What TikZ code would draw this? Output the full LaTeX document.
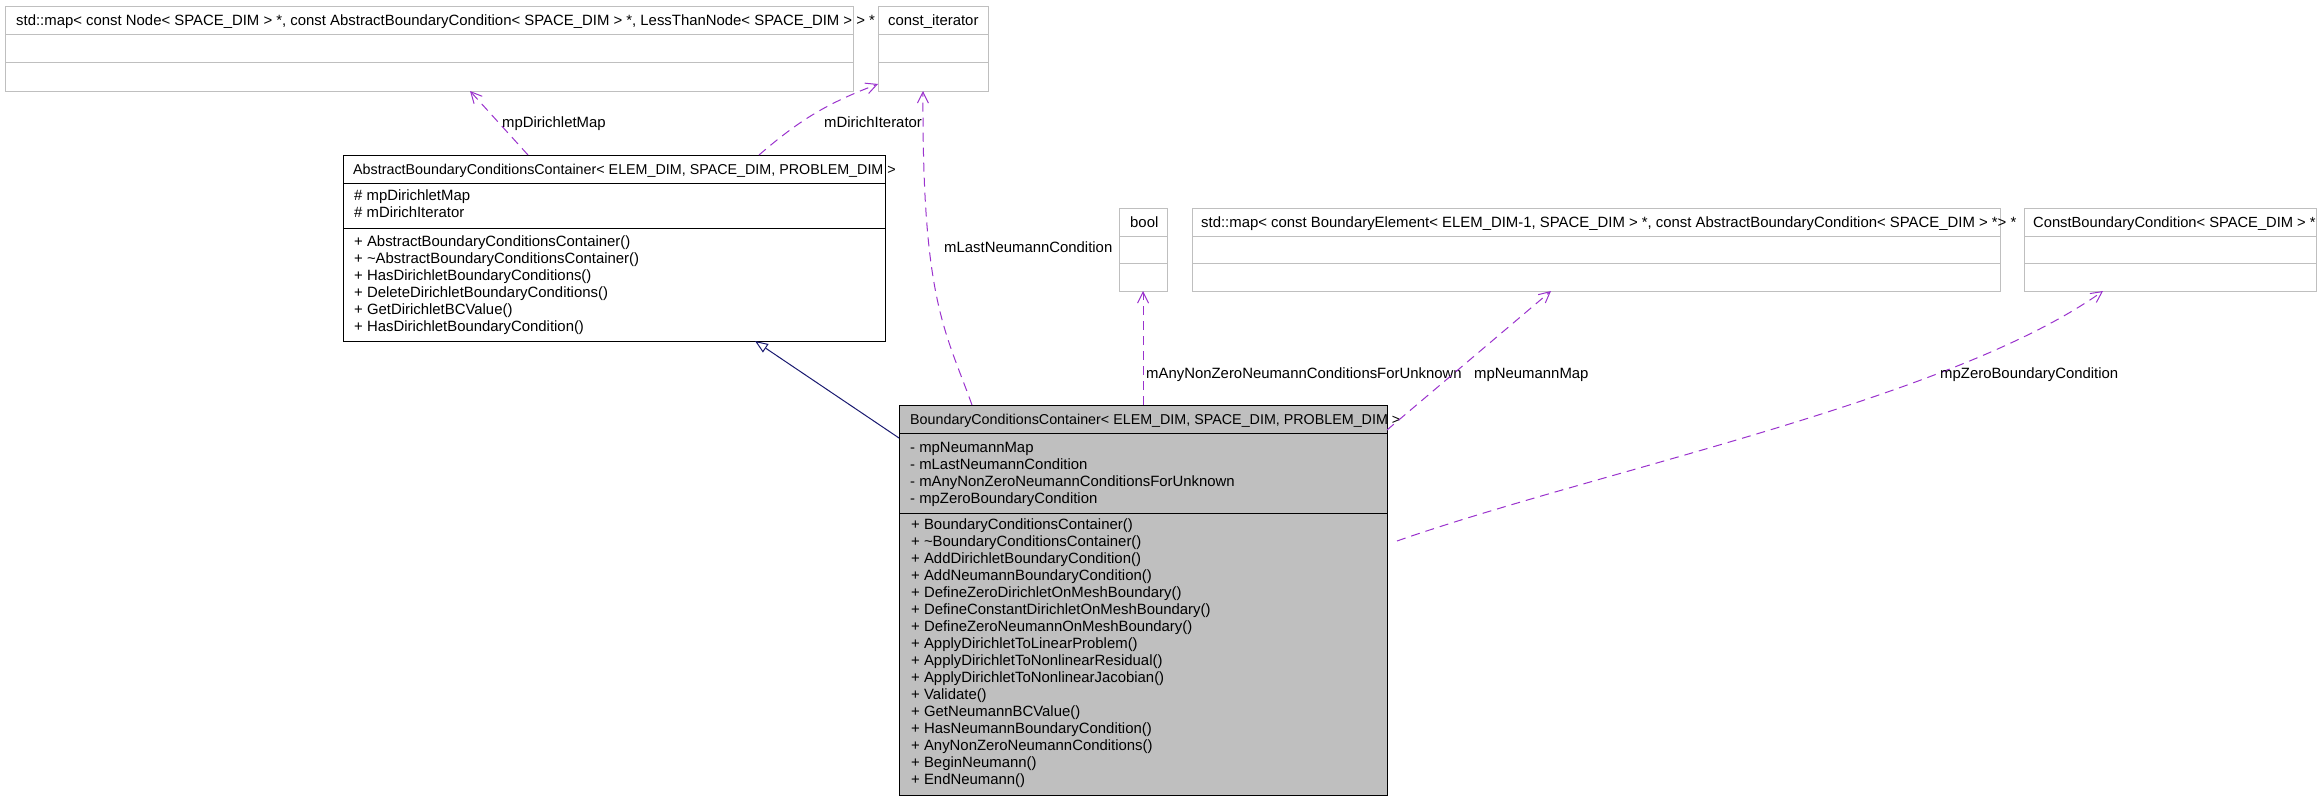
\documentclass[tikz,border=0pt]{standalone}
\usepackage{fontspec}
\setmainfont{Liberation Sans}
\usetikzlibrary{arrows.meta}
\definecolor{usecol}{HTML}{9A32CD}
\definecolor{inhcol}{HTML}{191970}
\definecolor{boxgray}{HTML}{BFBFBF}
\begin{document}
\begin{tikzpicture}[x=1pt,y=-1pt,
  extbox/.style={draw=boxgray, line width=1pt, anchor=north west, inner sep=0pt, outer sep=0pt},
  clsbox/.style={draw=black, line width=1pt, anchor=north west, inner sep=0pt, outer sep=0pt},
  sepext/.style={draw=boxgray, line width=1pt},
  sepcls/.style={draw=black, line width=1pt},
  txt/.style={anchor=base west, inner sep=0pt, font=\fontsize{14.9}{17}\selectfont},
  ttl/.style={anchor=base west, inner sep=0pt, font=\fontsize{14.3}{17}\selectfont},
  lbl/.style={anchor=base west, inner sep=0pt, font=\fontsize{14.9}{17}\selectfont},
  use/.style={draw=usecol, line width=1pt, dash pattern=on 9pt off 6pt, -{Straight Barb[length=11pt,width=11pt]}},
  inh/.style={draw=inhcol, line width=1pt, -{Triangle[open,length=13pt,width=10pt]}}
]
\useasboundingbox (0,0) rectangle (2321,800);

% ---------- top external boxes ----------
\node[extbox, minimum width=848pt, minimum height=84pt] (mapnode) at (5,7) {};
\draw[sepext] ([yshift=-28pt]mapnode.north west) -- ([yshift=-28pt]mapnode.north east);
\draw[sepext] ([yshift=-56pt]mapnode.north west) -- ([yshift=-56pt]mapnode.north east);
\node[txt] (mapnodet) at (16,26) {std::map< const Node< SPACE\_DIM > *, const AbstractBoundaryCondition< SPACE\_DIM > *, LessThanNode< SPACE\_DIM > > *};

\node[extbox, minimum width=110pt, minimum height=84pt] (citer) at (878,7) {};
\draw[sepext] ([yshift=-28pt]citer.north west) -- ([yshift=-28pt]citer.north east);
\draw[sepext] ([yshift=-56pt]citer.north west) -- ([yshift=-56pt]citer.north east);
\node[txt] (citert) at (888,26) {const\_iterator};

% ---------- second row external boxes ----------
\node[extbox, minimum width=48pt, minimum height=83pt] (bool) at (1119,208) {};
\draw[sepext] ([yshift=-28pt]bool.north west) -- ([yshift=-28pt]bool.north east);
\draw[sepext] ([yshift=-55pt]bool.north west) -- ([yshift=-55pt]bool.north east);
\node[txt] (boolt) at (1130,227) {bool};

\node[extbox, minimum width=808pt, minimum height=83pt] (bemap) at (1192,208) {};
\draw[sepext] ([yshift=-28pt]bemap.north west) -- ([yshift=-28pt]bemap.north east);
\draw[sepext] ([yshift=-55pt]bemap.north west) -- ([yshift=-55pt]bemap.north east);
\node[txt] (bemapt) at (1201,227) {std::map< const BoundaryElement< ELEM\_DIM-1, SPACE\_DIM > *, const AbstractBoundaryCondition< SPACE\_DIM > *> *};

\node[extbox, minimum width=292pt, minimum height=83pt] (cbc) at (2024,208) {};
\draw[sepext] ([yshift=-28pt]cbc.north west) -- ([yshift=-28pt]cbc.north east);
\draw[sepext] ([yshift=-55pt]cbc.north west) -- ([yshift=-55pt]cbc.north east);
\node[txt, font=\fontsize{14.7}{17}\selectfont] (cbct) at (2033,227) {ConstBoundaryCondition< SPACE\_DIM > *};

% ---------- AbstractBoundaryConditionsContainer ----------
\node[clsbox, minimum width=542pt, minimum height=186pt] (abs) at (343,155) {};
\draw[sepcls] ([yshift=-28pt]abs.north west) -- ([yshift=-28pt]abs.north east);
\draw[sepcls] ([yshift=-73pt]abs.north west) -- ([yshift=-73pt]abs.north east);
\node[ttl] (abst) at (353,174) {AbstractBoundaryConditionsContainer< ELEM\_DIM, SPACE\_DIM, PROBLEM\_DIM >};
\node[txt] (absa0) at (354,200) {\# mpDirichletMap};
\node[txt] (absa1) at (354,217) {\# mDirichIterator};
\foreach \t [count=\i from 0] in {%
  + AbstractBoundaryConditionsContainer(),
  + \textasciitilde AbstractBoundaryConditionsContainer(),
  + HasDirichletBoundaryConditions(),
  + DeleteDirichletBoundaryConditions(),
  + GetDirichletBCValue(),
  + HasDirichletBoundaryCondition()}
  {\node[txt] (absm\i) at (354,246+17*\i) {\t};}

% ---------- BoundaryConditionsContainer ----------
\node[clsbox, fill=boxgray, minimum width=488pt, minimum height=390pt] (bcc) at (899,405) {};
\draw[sepcls] ([yshift=-28pt]bcc.north west) -- ([yshift=-28pt]bcc.north east);
\draw[sepcls] ([yshift=-108pt]bcc.north west) -- ([yshift=-108pt]bcc.north east);
\node[ttl] (bcct) at (910,424.5) {BoundaryConditionsContainer< ELEM\_DIM, SPACE\_DIM, PROBLEM\_DIM >};
\foreach \t [count=\i from 0] in {%
  - mpNeumannMap,
  - mLastNeumannCondition,
  - mAnyNonZeroNeumannConditionsForUnknown,
  - mpZeroBoundaryCondition}
  {\node[txt] (bcca\i) at (910,452+17*\i) {\t};}
\foreach \t [count=\i from 0] in {%
  + BoundaryConditionsContainer(),
  + \textasciitilde BoundaryConditionsContainer(),
  + AddDirichletBoundaryCondition(),
  + AddNeumannBoundaryCondition(),
  + DefineZeroDirichletOnMeshBoundary(),
  + DefineConstantDirichletOnMeshBoundary(),
  + DefineZeroNeumannOnMeshBoundary(),
  + ApplyDirichletToLinearProblem(),
  + ApplyDirichletToNonlinearResidual(),
  + ApplyDirichletToNonlinearJacobian(),
  + Validate(),
  + GetNeumannBCValue(),
  + HasNeumannBoundaryCondition(),
  + AnyNonZeroNeumannConditions(),
  + BeginNeumann(),
  + EndNeumann()}
  {\node[txt] (bccm\i) at (911,529+17*\i) {\t};}

% ---------- connectors ----------
\draw[inh] ([yshift=-33pt]bcc.north west) -- ([xshift=412pt]abs.south west);

\draw[use] ([xshift=185pt]abs.north west) -- ([xshift=465pt]mapnode.south west);
\node[lbl] (l1) at (502,127) {mpDirichletMap};

\draw[use] ([xshift=416pt]abs.north west) to[bend left=10] ([yshift=7pt]citer.south west);
\node[lbl] (l2) at (824,127) {mDirichIterator};

\draw[use] ([xshift=73pt]bcc.north west) .. controls (945,330) and (922,300) .. ([xshift=45pt]citer.south west);
\node[lbl] (l3) at (944,252) {mLastNeumannCondition};

\draw[use] ([xshift=244pt]bcc.north west) -- (bool.south);
\node[lbl] (l4) at (1146,378) {mAnyNonZeroNeumannConditionsForUnknown};

\draw[use] ([yshift=-25pt]bcc.north east) -- ([xshift=359pt]bemap.south west);
\node[lbl] (l5) at (1474,378) {mpNeumannMap};

\draw[use] ([xshift=10pt,yshift=-136pt]bcc.north east) .. controls (1600,470) and (1950,400) .. ([xshift=79pt]cbc.south west);
\node[lbl] (l6) at (1940,378) {mpZeroBoundaryCondition};
\end{tikzpicture}
\end{document}
